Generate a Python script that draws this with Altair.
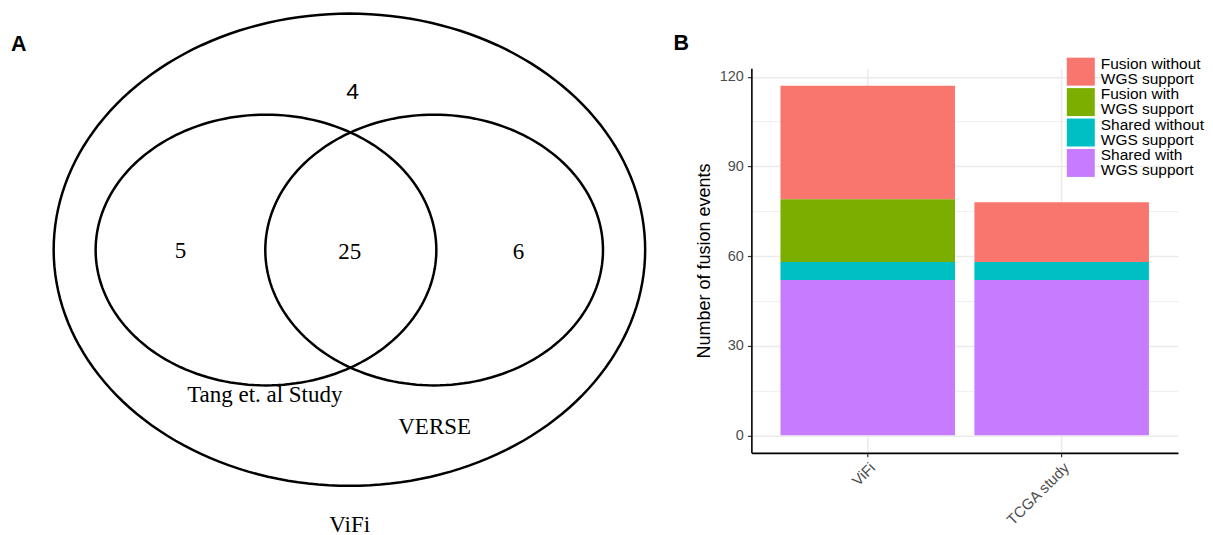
import altair as alt
import pandas as pd

# ---------------- Panel B data ----------------
methods = ["ViFi", "TCGA study"]
categories = ["Fusion without WGS support", "Fusion with WGS support",
              "Shared without WGS support", "Shared with WGS support"]
colors = ["#F8766D", "#7CAE00", "#00BFC4", "#C77CFF"]
vifi_counts = [38, 21, 6, 52]
tcga_counts = [20, 0, 6, 52]
stack_rank = [3, 2, 1, 0]
y_ticks = [0, 15, 30, 45, 60, 75, 90, 105, 120]

rows = []
for m, counts in zip(methods, [vifi_counts, tcga_counts]):
    for c, v, r in zip(categories, counts, stack_rank):
        rows.append({"method": m, "category": c, "count": v, "rank": r})
bars_df = pd.DataFrame(rows)
legend_df = pd.DataFrame({
    "category": categories,
    "line1": [c.split(" WGS")[0] for c in categories],
    "line2": ["WGS" + c.split(" WGS")[1] for c in categories],
})

# ---------------- Panel A data ----------------
venn_sets = ["ViFi", "Tang et. al Study", "VERSE"]
region_counts = ["4", "5", "25", "6"]

# Venn layout (diagram units)
ellipses = pd.DataFrame({
    "set": venn_sets,
    "cx": [341.7, 258.2, 426.5],
    "cy": [238.7, 239.0, 239.0],
    "rx": [296.0, 170.5, 169.0],
    "ry": [236.3, 135.5, 135.5],
})
count_pos = pd.DataFrame({
    "label": region_counts,
    "lx": [345, 172.7, 342, 511],
    "ly": [87.7, 247, 248, 248],
    "font": ["Liberation Sans", "Liberation Serif", "Liberation Serif", "Liberation Serif"],
})
set_pos = pd.DataFrame({
    "label": ["Tang et. al Study", "VERSE", "ViFi"],
    "lx": [257, 427, 342],
    "ly": [391, 423, 521],
})

W1, H1 = 660, 519
xs = alt.Scale(domain=[0, W1], nice=False, zero=False)
ys = alt.Scale(domain=[0, H1], nice=False, zero=False, reverse=True)

ellipse_layer = alt.Chart(ellipses).transform_calculate(
    deg="sequence(0, 361, 2)"
).transform_flatten(["deg"]).transform_calculate(
    px="datum.cx + datum.rx * cos(datum.deg * PI / 180)",
    py="datum.cy + datum.ry * sin(datum.deg * PI / 180)",
).mark_line(color="black", strokeWidth=2.5).encode(
    x=alt.X("px:Q", scale=xs, axis=None),
    y=alt.Y("py:Q", scale=ys, axis=None),
    detail="set:N",
    order="deg:Q",
)

count_sans = alt.Chart(count_pos[count_pos["font"] == "Liberation Sans"]).mark_text(
    font="Liberation Sans", fontSize=23, align="center", baseline="alphabetic", color="black"
).encode(x=alt.X("lx:Q", scale=xs, axis=None), y=alt.Y("ly:Q", scale=ys, axis=None), text="label:N")

count_serif = alt.Chart(count_pos[count_pos["font"] == "Liberation Serif"]).mark_text(
    font="Liberation Serif", fontSize=23, align="center", baseline="alphabetic", color="black"
).encode(x=alt.X("lx:Q", scale=xs, axis=None), y=alt.Y("ly:Q", scale=ys, axis=None), text="label:N")

set_text = alt.Chart(set_pos).mark_text(
    font="Liberation Serif", fontSize=23, align="center", baseline="alphabetic", color="black"
).encode(x=alt.X("lx:Q", scale=xs, axis=None), y=alt.Y("ly:Q", scale=ys, axis=None), text="label:N")

label_a = alt.Chart(pd.DataFrame({"t": ["A"]})).mark_text(
    font="Liberation Sans", fontSize=21.5, fontWeight="bold", align="left", baseline="alphabetic"
).encode(x=alt.value(3), y=alt.value(40), text="t:N")

left = alt.layer(ellipse_layer, count_sans, count_serif, set_text, label_a).properties(width=W1, height=H1)

# ---------------- Panel B ----------------
spacer = alt.Chart(pd.DataFrame({"t": ["B"]})).mark_text(
    font="Liberation Sans", fontSize=21.5, fontWeight="bold", align="left", baseline="alphabetic"
).encode(x=alt.value(-78), y=alt.value(39), text="t:N").properties(width=427, height=44.5)

color_scale = alt.Scale(domain=categories, range=colors)

bars = alt.Chart(bars_df).mark_bar().encode(
    x=alt.X("method:N", sort=methods,
            scale=alt.Scale(paddingInner=0.1, paddingOuter=0.15),
            axis=alt.Axis(title=None, labelAngle=-45, labelAlign="right", labelBaseline="top",
                          labelFontSize=15, labelColor="#4d4d4d", labelFont="Liberation Sans",
                          labelPadding=3, tickSize=4, tickColor="#333333", tickWidth=1.2,
                          domainColor="black", domainWidth=1.6,
                          grid=True, gridColor="#ebebeb", gridWidth=1.5)),
    y=alt.Y("count:Q", stack="zero",
            scale=alt.Scale(domain=[-5.85, 122.85], nice=False, zero=False),
            axis=alt.Axis(title="Number of fusion events", titleFontSize=18, titleFont="Liberation Sans",
                          titleFontWeight="normal", titleColor="black", titlePadding=6,
                          values=y_ticks,
                          labelExpr="datum.value % 30 === 0 ? datum.label : ''",
                          labelFontSize=14.5, labelColor="#4d4d4d", labelFont="Liberation Sans",
                          labelPadding=4, tickSize=4, tickWidth=1.2,
                          tickColor={"condition": {"test": "datum.value % 30 === 0", "value": "#333333"},
                                     "value": "transparent"},
                          domainColor="black", domainWidth=1.6,
                          grid=True, gridColor="#ebebeb",
                          gridWidth={"condition": {"test": "datum.value % 30 === 0", "value": 1.5},
                                     "value": 0.8})),
    color=alt.Color("category:N", scale=color_scale, legend=None),
    order=alt.Order("rank:Q", sort="ascending"),
)

legend_y = alt.Y("category:N", axis=None,
                 scale=alt.Scale(type="point", domain=categories, range=[3.5, 94.85], padding=0))

legend_squares = alt.Chart(legend_df).mark_square(size=784, opacity=1, strokeWidth=0).encode(
    x=alt.value(329.7),
    y=legend_y,
    color=alt.Color("category:N", scale=color_scale, legend=None),
)

legend_line1 = alt.Chart(legend_df).mark_text(
    align="left", baseline="alphabetic", dy=-2.8,
    font="Liberation Sans", fontSize=15.5, color="black"
).encode(x=alt.value(349.7), y=legend_y, text="line1:N")

legend_line2 = alt.Chart(legend_df).mark_text(
    align="left", baseline="alphabetic", dy=12.2,
    font="Liberation Sans", fontSize=15.5, color="black"
).encode(x=alt.value(349.7), y=legend_y, text="line2:N")

bars_panel = alt.layer(bars, legend_squares, legend_line1, legend_line2).resolve_scale(
    y="independent"
).properties(width=427, height=385)

right = alt.vconcat(spacer, bars_panel, spacing=0)

chart = alt.hconcat(left, right, spacing=6).resolve_scale(
    x="independent", y="independent", color="independent"
).properties(padding=0).configure(
    view={"stroke": None},
)

chart.save("out.html", embed_options={"renderer": "svg", "actions": False})
